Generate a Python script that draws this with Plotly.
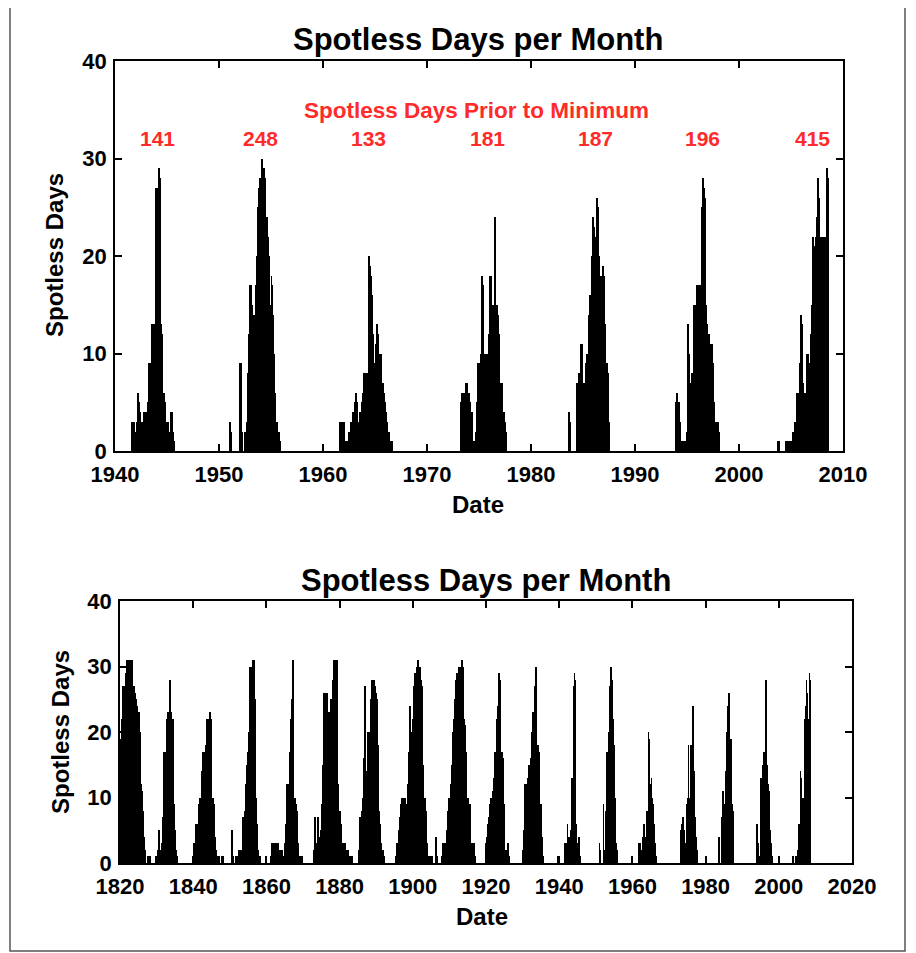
import pandas as pd
import plotly.graph_objects as go

# Monthly spotless-day counts (start month, one value per month)
min1944_start = "1941-08"
min1944_days = [3, 2, 3, 1, 1, 2, 3, 6, 5, 4, 2, 3, 1, 3, 4, 3, 4, 4, 4, 5, 9, 8, 9, 13, 12,
                13, 10, 13, 27, 27, 25, 29, 28, 27, 13, 12, 6, 6, 5, 3, 3, 2, 3, 2, 1, 4, 4, 1, 2, 1]
min1954_start = "1951-01"
min1954_days = [3, 2, 0, 0, 0, 0, 0, 0, 0, 0, 0, 0,
                9, 9, 2, 0, 0, 2, 2, 2, 3, 8, 12, 17, 17, 16, 15, 13, 14, 13, 17, 20, 24, 25,
                27, 28, 27, 30, 29, 28, 29, 28, 23, 24, 22, 20, 15, 14, 18, 17, 14, 10, 6, 3,
                3, 2, 2, 2, 1]
min1964_start = "1961-08"
min1964_days = [3, 3, 3, 2, 3, 3, 1, 0, 1, 1, 2, 2, 2, 3, 3, 4, 3, 5, 6, 6, 5, 3, 3, 4, 4, 3,
                5, 6, 8, 7, 8, 8, 8, 12, 20, 19, 18, 16, 12, 9, 9, 8, 11, 13, 12, 10, 10, 10,
                9, 7, 7, 6, 5, 4, 3, 3, 2, 2, 1, 1, 1]
min1976_start = "1973-04"
min1976_days = [5, 6, 6, 5, 6, 7, 7, 7, 6, 6, 5, 4, 4, 3, 1, 1, 1, 2, 5, 9, 9, 8, 9, 10, 18,
                17, 10, 9, 10, 9, 10, 9, 12, 18, 17, 18, 15, 14, 15, 24, 15, 15, 14, 14, 12,
                7, 7, 7, 4, 4, 4, 3, 2]
min1986_start = "1983-08"
min1986_days = [4, 4, 3, 0, 0, 0, 0, 0, 0, 3, 7, 7, 8, 7, 11, 11, 9, 7, 7, 7, 9, 10, 9, 14,
                16, 16, 16, 20, 24, 23, 20, 19, 22, 26, 25, 20, 18, 18, 17, 19, 19, 18, 13,
                9, 9, 8, 8, 3]
min1996_start = "1993-12"
min1996_days = [5, 6, 5, 5, 3, 2, 1, 1, 1, 0, 1, 1, 2, 12, 13, 10, 7, 7, 8, 7, 12, 15, 15, 14,
                17, 17, 16, 16, 17, 17, 25, 28, 27, 26, 15, 13, 13, 12, 12, 11, 11, 11, 11, 9,
                5, 3, 3, 2, 3, 2, 1]
min2008_start = "2003-10"
min2008_days = [1, 1, 0, 0, 0, 0, 0, 0, 0, 1, 1, 0, 1, 1, 1, 0, 1, 2, 2, 3, 2, 6, 5, 6, 5, 9,
                14, 13, 7, 5, 5, 6, 5, 10, 10, 9, 9, 9, 12, 15, 22, 21, 20, 22, 24, 22, 28, 26,
                22, 22, 22, 21, 22, 21, 22, 18, 29, 28]

# Earlier cycles, one sample every 3 months
q1823_start = "1820-01"
q1823_days = [19, 18, 22, 27, 27, 26, 29, 31, 31, 30, 31, 31, 30, 31, 27, 27, 26, 25, 24, 23,
              23, 20, 12, 10, 11, 8, 4, 2, 0, 0, 1, 1, 1]
q1833_start = "1829-10"
q1833_days = [1, 1, 2, 5, 2, 2, 3, 7, 12, 17, 17, 17, 22, 23, 23, 28, 23, 22, 22, 20, 9, 5, 2, 1]
q1843_start = "1839-10"
q1843_days = [1, 3, 3, 3, 6, 6, 5, 9, 10, 10, 14, 17, 17, 16, 18, 18, 22, 21, 22, 23, 22, 10,
              10, 9, 4, 2, 1]
q1850_start = "1846-10"
q1850_days = [1, 1, 0, 0, 1, 1, 0, 0, 0, 0, 0, 0, 0, 0, 0, 5, 1, 0, 0, 1]
q1856_start = "1851-10"
q1856_days = [1, 1, 1, 2, 1, 2, 2, 7, 7, 8, 12, 15, 17, 20, 25, 30, 29, 30, 31, 31, 25, 10, 6,
              2, 1, 1, 1]
q1867_start = "1861-04"
q1867_days = [1, 3, 2, 3, 1, 3, 2, 3, 1, 2, 1, 1, 2, 1, 1, 3, 6, 12, 12, 11, 17, 22, 25, 28,
              31, 10, 10, 9, 8, 3, 1, 1, 1, 1]
q1878_start = "1873-01"
q1878_days = [2, 7, 3, 2, 7, 3, 4, 5, 9, 15, 26, 26, 25, 26, 26, 19, 23, 19, 25, 25, 28, 31,
              30, 31, 29, 31, 12, 8, 8, 6, 3, 3, 2, 3, 1, 2, 1, 2, 1, 1, 1, 1]
q1889_start = "1885-04"
q1889_days = [2, 7, 7, 8, 10, 16, 27, 14, 13, 15, 20, 19, 20, 25, 28, 27, 28, 27, 26, 25, 18,
              9, 8, 6, 3, 2, 2, 1]
q1901_start = "1895-04"
q1901_days = [1, 3, 3, 5, 7, 6, 9, 10, 10, 9, 10, 9, 9, 12, 17, 24, 16, 15, 20, 22, 27, 29,
              29, 30, 31, 30, 30, 28, 28, 27, 15, 10, 10, 8, 3, 1, 1, 1, 0, 1, 0, 0, 0, 0, 4, 1]
q1913_start = "1907-10"
q1913_days = [1, 2, 3, 3, 2, 3, 5, 8, 10, 10, 12, 15, 20, 22, 22, 25, 28, 29, 29, 30, 29, 30,
              31, 30, 22, 22, 21, 17, 10, 10, 9, 9, 3, 3, 1, 3, 1]
q1923_start = "1919-10"
q1923_days = [1, 3, 4, 6, 7, 9, 10, 10, 11, 13, 17, 17, 18, 22, 24, 29, 28, 17, 17, 16, 9, 2,
              2, 1, 2, 3, 1]
q1933_start = "1930-01"
q1933_days = [2, 5, 12, 12, 11, 13, 12, 15, 15, 16, 20, 23, 23, 27, 30, 18, 18, 17, 12, 9, 9, 4, 1]
q1939_start = "1939-07"
q1939_days = [1]

# Red labels: spotless days before each minimum
prior_counts = ["141", "248", "133", "181", "187", "196", "415"]
prior_dates = ["1944-02-05", "1954-01-01", "1964-05-25", "1975-10-20",
               "1986-04-01", "1996-07-01", "2007-02-05"]

FONT = "Liberation Sans"
MONTH_MS = 30.44 * 24 * 3600 * 1000


def build_series(segments, step):
    """Join (start, values) segments into one x/y pair, one bar per `step` months"""
    xs, ys = [], []
    for start, values in segments:
        dates = pd.date_range(start, periods=len(values), freq=f"{step}MS")
        xs.extend(dates.strftime("%Y-%m-%d"))
        ys.extend(values)
    return xs, ys


monthly_segments = [
    (min1944_start, min1944_days), (min1954_start, min1954_days),
    (min1964_start, min1964_days), (min1976_start, min1976_days),
    (min1986_start, min1986_days), (min1996_start, min1996_days),
    (min2008_start, min2008_days),
]
quarterly_segments = [
    (q1823_start, q1823_days), (q1833_start, q1833_days), (q1843_start, q1843_days),
    (q1850_start, q1850_days), (q1856_start, q1856_days), (q1867_start, q1867_days),
    (q1878_start, q1878_days), (q1889_start, q1889_days), (q1901_start, q1901_days),
    (q1913_start, q1913_days), (q1923_start, q1923_days), (q1933_start, q1933_days),
    (q1939_start, q1939_days),
]

mx, my = build_series(monthly_segments, 1)
qx, qy = build_series(quarterly_segments, 3)

fig = go.Figure()

# Upper panel
fig.add_trace(go.Bar(x=mx, y=my, width=MONTH_MS, offset=0, marker_color="black",
                     marker_line_width=0, xaxis="x", yaxis="y"))
# Lower panel
fig.add_trace(go.Bar(x=qx, y=qy, width=3 * MONTH_MS, offset=0, marker_color="black",
                     marker_line_width=0, xaxis="x2", yaxis="y2"))
fig.add_trace(go.Bar(x=mx, y=my, width=MONTH_MS, offset=0, marker_color="black",
                     marker_line_width=0, xaxis="x2", yaxis="y2"))

W, H = 916, 953
PAGE_PAD = 8  # the page body adds 8px before the plot div


def px_x(v):
    return (v - PAGE_PAD) / W


def px_y(v):
    return 1 - (v - PAGE_PAD) / H


tick_font = dict(family=FONT, size=22, color="black", weight="bold")
common_axis = dict(ticks="inside", ticklen=7, tickwidth=1.5, tickcolor="black",
                   showline=True, mirror="ticks", linecolor="black", linewidth=1.5,
                   showgrid=False, zeroline=False, tickfont=tick_font, automargin=False)

fig.update_layout(
    width=W, height=H,
    margin=dict(l=0, r=0, t=0, b=0, autoexpand=False),
    paper_bgcolor="white", plot_bgcolor="white",
    showlegend=False, bargap=0,
    xaxis=dict(domain=[px_x(115), px_x(843)], anchor="y", type="date",
               range=["1940-01-01", "2010-01-01"], tickmode="linear",
               tick0="1940-01-01", dtick="M120", tickformat="%Y",
               ticklabelstandoff=3, **common_axis),
    yaxis=dict(domain=[px_y(451), px_y(61)], anchor="x", range=[0, 40],
               tickmode="linear", tick0=0, dtick=10, ticklabelstandoff=2, **common_axis),
    xaxis2=dict(domain=[px_x(120), px_x(852)], anchor="y2", type="date",
                range=["1820-01-01", "2020-01-01"], tickmode="linear",
                tick0="1820-01-01", dtick="M240", tickformat="%Y",
                ticklabelstandoff=3, **common_axis),
    yaxis2=dict(domain=[px_y(863), px_y(601)], anchor="x2", range=[0, 40],
                tickmode="linear", tick0=0, dtick=10, ticklabelstandoff=2, **common_axis),
)

title_font = dict(family=FONT, size=31, color="black", weight="bold")
label_font = dict(family=FONT, size=24, color="black", weight="bold")
red_font = dict(family=FONT, size=22.5, color="#ff2a2a", weight="bold")
num_font = dict(family=FONT, size=21, color="#ff2a2a", weight="bold")

annotations = [
    dict(text="Spotless Days per Month", x=px_x(478), y=px_y(40), font=title_font),
    dict(text="Spotless Days per Month", x=px_x(486), y=px_y(580), font=title_font),
    dict(text="Date", x=px_x(478), y=px_y(504), font=label_font),
    dict(text="Date", x=px_x(482), y=px_y(916), font=label_font),
    dict(text="Spotless Days", x=px_x(55), y=px_y(255), font=label_font, textangle=-90),
    dict(text="Spotless Days", x=px_x(60), y=px_y(732), font=label_font, textangle=-90),
    dict(text="Spotless Days Prior to Minimum", x=px_x(477), y=px_y(111), font=red_font),
]
for a in annotations:
    fig.add_annotation(xref="paper", yref="paper", showarrow=False,
                       xanchor="center", yanchor="middle", **a)

for label, when in zip(prior_counts, prior_dates):
    fig.add_annotation(text=label, xref="x", yref="y", x=when, y=32.1,
                       showarrow=False, font=num_font)

# Thin frame around the whole page
fig.add_shape(type="rect", xref="paper", yref="paper",
              x0=px_x(10), x1=px_x(905), y0=px_y(951), y1=px_y(6),
              line=dict(color="#555555", width=1.5))

fig.write_html("out.html")
